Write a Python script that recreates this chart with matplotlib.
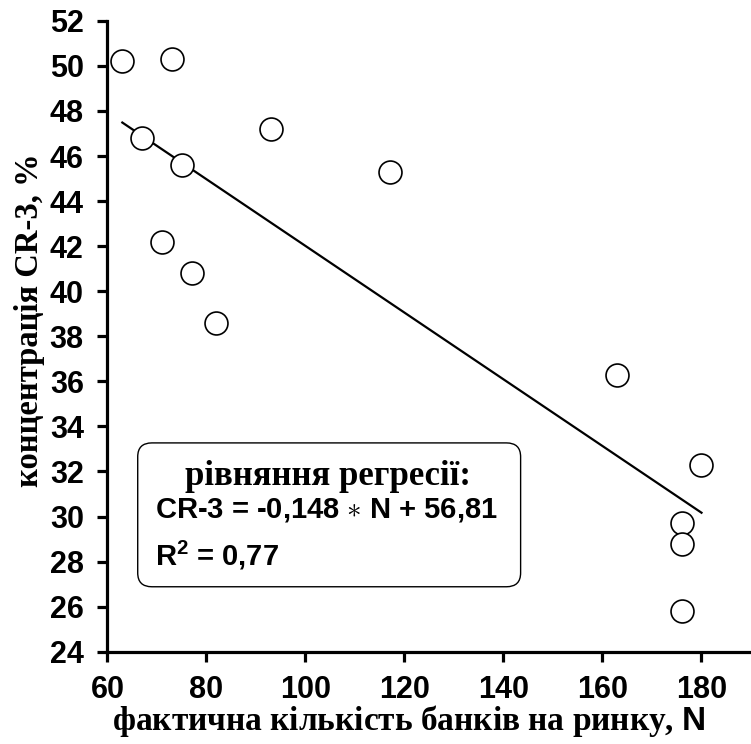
import matplotlib
matplotlib.use('Agg')
import matplotlib.pyplot as plt
from matplotlib.patches import FancyBboxPatch
import numpy as np

# bank counts (N) and CR-3 concentration, %
banks = [63, 73, 67, 75, 93, 71, 77, 82, 117, 163, 180, 176, 176, 176]
cr3 = [50.2, 50.3, 46.8, 45.6, 47.2, 42.2, 40.8, 38.6, 45.3, 36.3, 32.3, 29.7, 28.8, 25.8]

# regression line  CR-3 = -0.148 * N + 56.81
slope = -0.148
intercept = 56.81
fit_range = [63, 180]

x_ticks = [60, 80, 100, 120, 140, 160, 180]
y_ticks = [24, 26, 28, 30, 32, 34, 36, 38, 40, 42, 44, 46, 48, 50, 52]

plt.rcParams['mathtext.fontset'] = 'custom'
plt.rcParams['mathtext.rm'] = 'Liberation Sans:bold'
plt.rcParams['mathtext.it'] = 'Liberation Sans:bold'
plt.rcParams['mathtext.bf'] = 'Liberation Sans:bold'

sans = 'Liberation Sans'
serif = 'Liberation Serif'

fig = plt.figure(figsize=(7.51, 7.44), dpi=100)
ax = fig.add_axes([0.1431, 0.124, 0.8569, 0.848])

ax.scatter(banks, cr3, s=16.5**2, facecolors='white', edgecolors='black',
           linewidths=1.2, zorder=3)

xf = np.array(fit_range)
ax.plot(xf, slope * xf + intercept, color='black', lw=1.6, zorder=2)

ax.set_xlim(60, 190)
ax.set_ylim(24, 52)
ax.set_xticks(x_ticks)
ax.set_yticks(y_ticks)

for s in ['top', 'right']:
    ax.spines[s].set_visible(False)
for s in ['left', 'bottom']:
    ax.spines[s].set_linewidth(2.3)

ax.tick_params(axis='both', direction='out', length=7, width=2.3,
               labelsize=22)
ax.tick_params(axis='x', pad=10)
ax.tick_params(axis='y', pad=10)
for lab in ax.get_xticklabels() + ax.get_yticklabels():
    lab.set_fontfamily(sans)
    lab.set_fontweight('bold')

ax.set_xlabel('фактична кількість банків на ринку, $\\mathrm{N}$',
              fontfamily=serif, fontweight='bold', fontsize=24)
ax.xaxis.set_label_coords(0.4685, -0.081)
ax.set_ylabel('концентрація CR-3, %', fontfamily=serif,
              fontweight='bold', fontsize=23.5)
ax.yaxis.set_label_coords(-0.097, 0.526)

# equation box
box = FancyBboxPatch((0.047, 0.103), 0.595, 0.228,
                     boxstyle='round,pad=0,rounding_size=0.022',
                     transform=ax.transAxes, facecolor='white',
                     edgecolor='black', lw=1.0, zorder=4)
ax.add_patch(box)

ax.text(0.342, 0.264, 'рівняння регресії:', transform=ax.transAxes,
        ha='center', va='baseline', fontfamily=serif, fontweight='bold',
        fontsize=25, zorder=5)
ax.text(0.0738, 0.2135, 'CR-3 = -0,148 $\\ast$ N + 56,81', transform=ax.transAxes,
        ha='left', va='baseline', fontfamily=sans,
        fontweight='bold', fontsize=21, zorder=5)
ax.text(0.0738, 0.1374, 'R$^{2}$ = 0,77', transform=ax.transAxes,
        ha='left', va='baseline', fontfamily=sans, fontweight='bold',
        fontsize=21, zorder=5)

fig.savefig('out.png', dpi=100)
